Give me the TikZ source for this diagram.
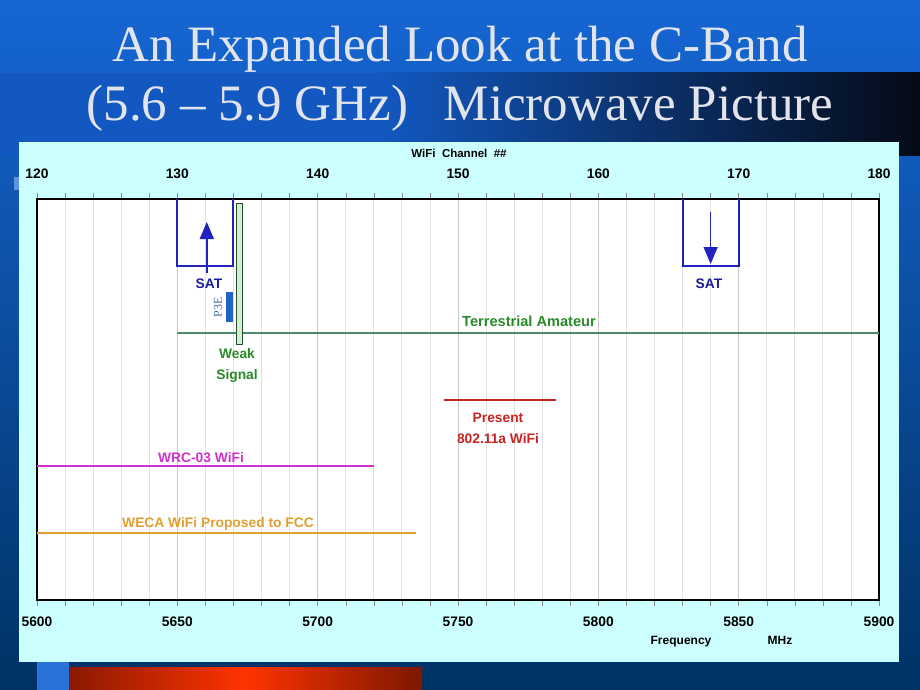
\documentclass[tikz,border=0pt]{standalone}
\usepackage{fontspec}
\setmainfont{Liberation Serif}
\setsansfont{Liberation Sans}
\usetikzlibrary{positioning,arrows.meta}

\definecolor{slidetop}{HTML}{1666D4}
\definecolor{slidebot}{HTML}{003264}
\definecolor{bandblue}{HTML}{1258C0}
\definecolor{banddark}{HTML}{050A16}
\definecolor{panelcyan}{HTML}{CCFFFF}
\definecolor{gridgray}{HTML}{E2E2E2}
\definecolor{satblue}{HTML}{2222BE}
\definecolor{sattext}{HTML}{1C1C9E}
\definecolor{terrgreen}{HTML}{4A8A68}
\definecolor{labelgreen}{HTML}{2A8A2A}
\definecolor{weakfill}{HTML}{D4EEC8}
\definecolor{p3eblue}{HTML}{1E64C0}
\definecolor{wifired}{HTML}{C82424}
\definecolor{wrcmag}{HTML}{D030D0}
\definecolor{wecaorange}{HTML}{E0A030}
\definecolor{titlegray}{HTML}{E2E4EC}
\definecolor{barred}{HTML}{8A1A00}
\definecolor{barhot}{HTML}{FF3300}

\newcommand{\lblfont}{\sffamily\bfseries\fontsize{13.8}{16}\selectfont}

\tikzset{
  chlabel/.style={font=\lblfont, text=black, inner sep=0pt},
  bandlabel/.style={font=\lblfont, inner sep=0pt},
  titletext/.style={font=\fontsize{51}{60}\selectfont, anchor=base, inner sep=0pt, text=titlegray},
  satbox/.style={satblue, line width=2pt},
  satarrow/.style={satblue, line width=1.5pt, -{Triangle[width=14pt,length=17pt]}},
  bandline/.style={line width=2.5pt}
}

\begin{document}
\begin{tikzpicture}[x=1pt, y=-1pt,
    declare function={fx(\f)=37+(\f-5600)*2.8067;}]
  \useasboundingbox (0,0) rectangle (920,690);

  % 背景
  \shade[top color=slidetop, bottom color=slidebot] (0,0) rectangle (920,690);
  \fill[bandblue] (0,73) rectangle (380,155);
  \shade[left color=bandblue, right color=banddark] (380,73) rectangle (920,155);
  \fill[white!30!slidetop] (14,177) rectangle (19,190);
  \fill[white!8!slidetop] (37,662) rectangle (69,690);
  \shade[left color=barred, right color=barred!90!black, middle color=barhot]
    (69,667) rectangle (422,690);

  % 标题
  \node[titletext] (title1) at (460,62) {An Expanded Look at the C-Band};
  \node[titletext] (title2) at (460,121) {(5.6 -- 5.9 GHz)\hspace{0.7em}Microwave Picture};

  % 图表底板
  \fill[panelcyan] (19,142) rectangle (899,662);
  \fill[white] (37,199) rectangle (879,600);

  % 网格线和刻度
  \foreach \f in {5610,5620,...,5890}
    \draw[gridgray, line width=0.8pt] ({fx(\f)},199) -- ({fx(\f)},600);
  \foreach \f in {5650,5700,...,5850}
    \draw[black!22, line width=0.8pt] ({fx(\f)},199) -- ({fx(\f)},600);
  \foreach \f in {5600,5610,...,5900} {
    \draw[black!45] ({fx(\f)},193) -- ({fx(\f)},199);
    \draw[black!45] ({fx(\f)},600) -- ({fx(\f)},606);
  }
  \draw[line width=2pt] (37,199) rectangle (879,600);

  % 坐标轴标注
  \node[font=\sffamily\bfseries\fontsize{11.5}{13}\selectfont, inner sep=0pt] (chtitle) at (459,153) {WiFi\ \ Channel\ \ \#\#};
  \foreach \c in {120,130,...,180}
    \node[chlabel] (ch\c) at ({fx(5000+5*\c)},174) {\c};
  \foreach \f in {5600,5650,...,5900}
    \node[chlabel] (f\f) at ({fx(\f)},622) {\f};
  \node[chlabel, anchor=base, font=\sffamily\bfseries\fontsize{12}{14}\selectfont] (freq) at (681,644) {Frequency};
  \node[chlabel, anchor=base, font=\sffamily\bfseries\fontsize{12}{14}\selectfont] (mhz) at (780,644) {MHz};

  % 卫星上行和下行
  \draw[satbox] ({fx(5650)},199) -- ({fx(5650)},266) -- ({fx(5670)},266) -- ({fx(5670)},199);
  \coordinate (upfoot) at ({fx(5660.5)},273);
  \coordinate (uptip) at ({fx(5660.5)},222);
  \draw[satarrow] (upfoot) -- (uptip);
  \node[bandlabel, text=sattext] (satL) at (209,284) {SAT};

  \draw[satbox] ({fx(5830)},199) -- ({fx(5830)},266) -- ({fx(5850)},266) -- ({fx(5850)},199);
  \coordinate (downfoot) at ({fx(5840)},212);
  \coordinate (downtip) at ({fx(5840)},264);
  \draw[satarrow] (downfoot) -- (downtip);
  \node[bandlabel, text=sattext] (satR) at (709,284) {SAT};

  % P3E
  \fill[p3eblue] (226,292) rectangle (233,322);
  \node[rotate=90, font=\fontsize{12}{14}\selectfont, text=p3eblue!70!black!80, inner sep=0pt] (p3e) at (218,307) {P3E};

  % 地面业余
  \draw[bandline, terrgreen, line width=2pt] (177,333) -- (879,333);
  \node[bandlabel, text=labelgreen, font=\sffamily\bfseries\fontsize{14.6}{17}\selectfont] (terr) at (529,321) {Terrestrial Amateur};

  % 弱信号
  \draw[fill=weakfill, draw=black!45!terrgreen, line width=0.8pt] (236,203) rectangle (242,344);
  \node[bandlabel, text=labelgreen] (weak) at (237,354) {Weak};
  \node[bandlabel, text=labelgreen] (signal) at (237,376) {Signal};

  % 802.11a
  \draw[bandline, wifired, line width=2pt] ({fx(5745)},400) -- ({fx(5785)},400);
  \node[bandlabel, text=wifired] (present) at (498,418) {Present};
  \node[bandlabel, text=wifired] (wifia) at (498,439) {802.11a WiFi};

  % WRC-03 和 WECA
  \draw[bandline, wrcmag] (37,466) -- ({fx(5720)},466);
  \node[bandlabel, text=wrcmag] (wrc) at (201,458) {WRC-03 WiFi};
  \draw[bandline, wecaorange] (37,533) -- ({fx(5735)},533);
  \node[bandlabel, text=wecaorange] (weca) at (218,524) {WECA WiFi Proposed to FCC};
\end{tikzpicture}
\end{document}
